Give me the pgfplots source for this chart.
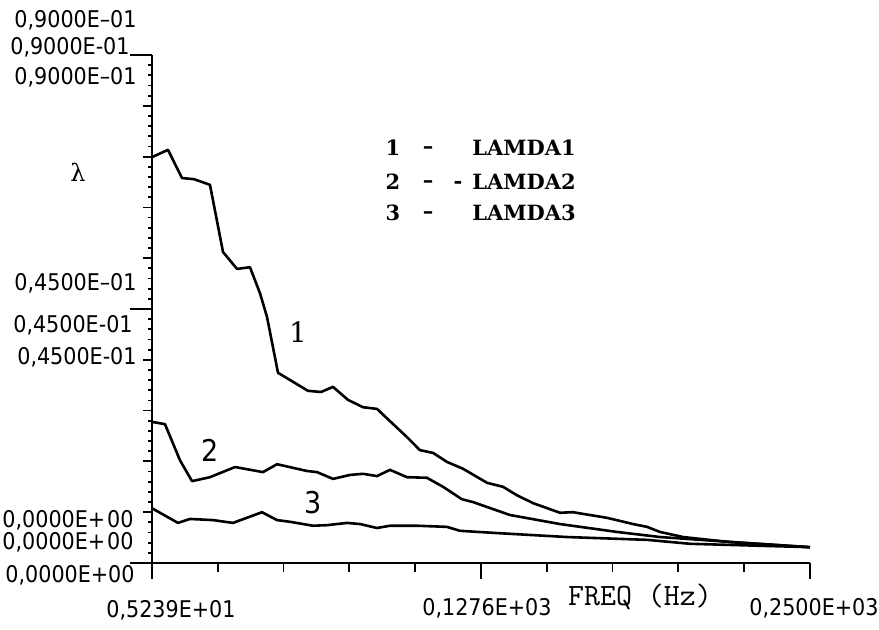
\documentclass[border=0pt]{standalone}
\usepackage{pgfplots}
\pgfplotsset{compat=1.18}
\usepackage{fontspec}
\newfontfamily\dvs{DejaVu Sans}
\newfontfamily\dvsc{DejaVu Sans Condensed}
\newfontfamily\dvserif{DejaVu Serif}

\begin{document}
\begin{tikzpicture}
\useasboundingbox (-76pt,-33.5pt) rectangle (363.5pt,281.5pt);
\begin{axis}[
  at={(0,0)}, anchor=south west,
  scale only axis, width=329pt, height=254pt,
  xmin=5.239, xmax=250, ymin=0, ymax=0.09,
  axis lines=left,
  axis line style={-, line width=1.2pt},
  tick align=outside,
  tick style={black, line width=0.9pt},
  major tick length=4.5pt, minor tick length=2pt,
  xtick={5.239,29.715,54.191,78.667,103.143,127.619,152.095,176.571,201.047,225.523,250},
  ytick={0,0.009,0.018,0.027,0.036,0.045,0.054,0.063,0.072,0.081,0.09},
  minor x tick num=4, minor y tick num=4,
  xticklabels={}, yticklabels={},
  scaled ticks=false,
  extra x ticks={5.239,127.6,250},
  extra x tick labels={},
  extra x tick style={major tick length=8pt},
  extra y ticks={0,0.045,0.09},
  extra y tick labels={},
  extra y tick style={major tick length=11pt},
  clip=false,
]
% LAMDA1
\addplot[black, line width=1.3pt, line join=round] coordinates {
 (5.239,0.0719) (11.19,0.0732) (16.40,0.0682) (20.86,0.0680) (23.84,0.0675)
 (26.81,0.0670) (31.65,0.0551) (36.86,0.0521) (41.69,0.0524) (45.41,0.0478)
 (48.02,0.0436) (52.11,0.0337) (57.69,0.0321) (63.27,0.0305) (68.11,0.0303)
 (72.57,0.0312) (78.15,0.0289) (83.73,0.0276) (88.93,0.0273) (94.51,0.0248)
 (100.1,0.0223) (104.9,0.0200) (109.8,0.0195) (115.0,0.0179) (120.9,0.0167)
 (129.9,0.0142) (135.8,0.0135) (141.0,0.0120) (147.0,0.0106) (157.0,0.0089)
 (161.8,0.0090) (174.5,0.0080) (184.2,0.0069) (189.4,0.0064) (194.2,0.0055)
 (202.8,0.0046) (220.2,0.0037) (250,0.0028)
};
% LAMDA2
\addplot[black, line width=1.3pt, line join=round] coordinates {
 (5.239,0.0250) (10.07,0.0246) (15.65,0.0182) (20.12,0.0145) (26.81,0.0152)
 (36.11,0.0170) (46.53,0.0161) (51.74,0.0175) (62.90,0.0163) (66.62,0.0161)
 (72.57,0.0149) (78.89,0.0156) (83.73,0.0158) (88.93,0.0154) (93.77,0.0165)
 (100.1,0.0152) (107.5,0.0151) (113.5,0.0135) (120.5,0.0113) (124.6,0.0108)
 (138.4,0.0085) (157.0,0.0069) (178.2,0.0055) (194.2,0.0046) (209.1,0.0041)
 (250,0.0028)
};
% LAMDA3
\addplot[black, line width=1.3pt, line join=round] coordinates {
 (5.239,0.0097) (14.91,0.0071) (19.37,0.0078) (27.93,0.0076) (35.37,0.0071)
 (46.16,0.0090) (51.74,0.0076) (56.57,0.0073) (65.13,0.0066) (70.33,0.0067)
 (77.77,0.0071) (82.61,0.0069) (88.93,0.0062) (93.77,0.0066) (103.8,0.0066)
 (114.97,0.0064) (119.8,0.0057) (133.6,0.0053) (159.6,0.0046) (189.4,0.0041)
 (205.4,0.0034) (250,0.0028)
};
\end{axis}

% labels, placed in a pixel grid of the whole sheet
\begin{scope}[x=0.5pt, y=-0.5pt, shift={(-76pt,281.5pt)}, every node/.style={inner sep=0pt}]
  \begin{scope}[every node/.append style={anchor=east, font=\dvsc\fontsize{11.5}{13}\selectfont}]
    \node at (137,20) {0,9000E–01};
    \node at (130,47) {0,9000E-01};
    \node at (137,77) {0,9000E–01};
    \node at (137,283) {0,4500E–01};
    \node at (133,325) {0,4500E-01};
    \node at (137,357) {0,4500E-01};
    \node at (134,520) {0,0000E+\kern1pt 00};
    \node at (134,542) {0,0000E+\kern1pt 00};
    \node at (135,575) {0,0000E+00};
  \end{scope}
  \begin{scope}[every node/.append style={font=\dvsc\fontsize{11.5}{13}\selectfont}]
    \node at (171,610) {0,5239E+01};
    \node at (487,608) {0,1276E+03};
    \node at (814,608) {0,2500E+03};
  \end{scope}
  \node[font=\ttfamily\fontsize{15.5}{18}\selectfont] at (640,597) {FREQ (Hz)};
  \node[font=\dvserif\fontsize{12}{14}\selectfont] at (78,172) {λ};
  % curve numbers
  \node[font=\dvserif\fontsize{14}{16}\selectfont] at (298,332) {1};
  \node[font=\dvsc\fontsize{15}{17}\selectfont] at (210,450) {2};
  \node[font=\dvsc\fontsize{15}{17}\selectfont] at (313,503) {3};
  % key
  \begin{scope}[every node/.append style={font=\dvserif\bfseries\fontsize{10.5}{12}\selectfont}]
    \node at (393,148) {1};
    \node at (428,150) {–};
    \node[anchor=west] at (472,148) {LAMDA1};
    \node at (393,182) {2};
    \node at (428,184) {–};
    \node at (458,185) {-};
    \node[anchor=west] at (472,182) {LAMDA2};
    \node at (393,213) {3};
    \node at (428,215) {–};
    \node[anchor=west] at (472,213) {LAMDA3};
  \end{scope}
\end{scope}
\end{tikzpicture}
\end{document}
